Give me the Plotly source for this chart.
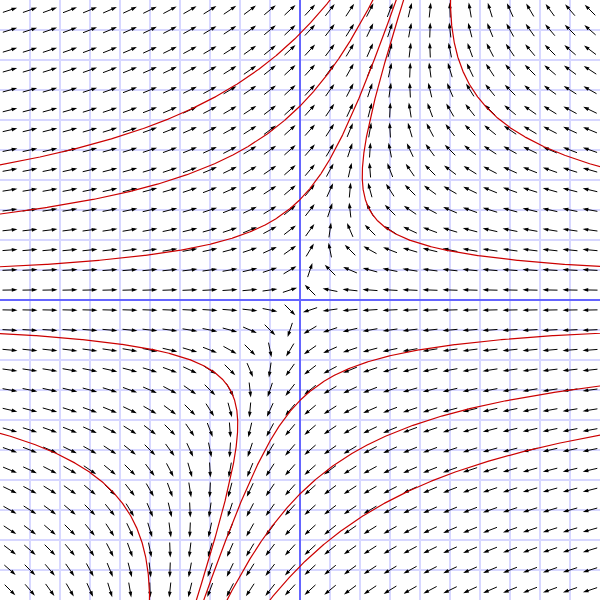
import numpy as np
import plotly.graph_objects as go

# Linear system:  x' = A[0][0]*x + A[0][1]*y ,  y' = A[1][0]*x + A[1][1]*y
A = [[-2.0, 1.0],
     [0.0, 1.0]]

# plot window (data units) and sampling of the direction field
x_range = [-10, 10]
y_range = [-10, 10]
n_arrows = 30
arrow_len = 0.5

# solution curves (x - y/3) * y^2 = K ; upper half (y>0) and lower half (y<0)
K_upper = [-233.0, -90.0, -12.5, 11.9, 168.0]
K_lower = [233.0, 90.0, 12.5, -11.9, -168.0]


def field(x, y):
    return A[0][0] * x + A[0][1] * y, A[1][0] * x + A[1][1] * y


step = (x_range[1] - x_range[0]) / n_arrows
gx = np.linspace(x_range[0] + step / 2, x_range[1] - step / 2, n_arrows)
gy = np.linspace(y_range[0] + step / 2, y_range[1] - step / 2, n_arrows)
X, Y = np.meshgrid(gx, gy)
U, V = field(X, Y)
N = np.hypot(U, V)
N[N == 0] = 1
U = U / N
V = V / N

xs, ys = [], []
hx, hy, hang = [], [], []
for x0, y0, u, v in zip(X.ravel(), Y.ravel(), U.ravel(), V.ravel()):
    x1, y1 = x0 - u * arrow_len / 2, y0 - v * arrow_len / 2
    x2, y2 = x0 + u * arrow_len / 2, y0 + v * arrow_len / 2
    xs += [x1, x2 - u * 0.08, None]
    ys += [y1, y2 - v * 0.08, None]
    hx.append(x2)
    hy.append(y2)
    hang.append(np.degrees(np.arctan2(u, v)))

fig = go.Figure()
fig.add_trace(go.Scatter(x=xs, y=ys, mode="lines",
                         line=dict(color="black", width=1),
                         hoverinfo="skip", showlegend=False))
fig.add_trace(go.Scatter(x=hx, y=hy, mode="markers",
                         marker=dict(symbol="arrow", size=6, angle=hang,
                                     color="black", line=dict(width=0)),
                         hoverinfo="skip", showlegend=False))


def curve(K, sign):
    yy = sign * np.geomspace(0.05, 10.5, 3000)
    xx = yy / 3.0 + K / yy ** 2
    m = np.abs(xx) <= 12
    return xx[m], yy[m]


for K in K_upper:
    cx, cy = curve(K, 1)
    fig.add_trace(go.Scatter(x=cx, y=cy, mode="lines",
                             line=dict(color="rgb(204,0,0)", width=1.2),
                             hoverinfo="skip", showlegend=False))
for K in K_lower:
    cx, cy = curve(K, -1)
    fig.add_trace(go.Scatter(x=cx, y=cy, mode="lines",
                             line=dict(color="rgb(204,0,0)", width=1.2),
                             hoverinfo="skip", showlegend=False))

axis_common = dict(showticklabels=False, ticks="", dtick=1, tick0=0,
                   showgrid=True, gridcolor="rgb(215,215,255)", gridwidth=1.5,
                   zeroline=True, zerolinecolor="rgb(100,100,255)",
                   zerolinewidth=2, showline=False)
fig.update_layout(
    width=600, height=600,
    margin=dict(l=0, r=0, t=0, b=0),
    paper_bgcolor="white", plot_bgcolor="white",
    xaxis=dict(range=x_range, **axis_common),
    yaxis=dict(range=y_range, scaleanchor="x", scaleratio=1, **axis_common),
)
fig.write_html("out.html",
               config={"displayModeBar": False},
               post_script="document.body.style.margin='0';"
                           "document.body.style.padding='0';")
